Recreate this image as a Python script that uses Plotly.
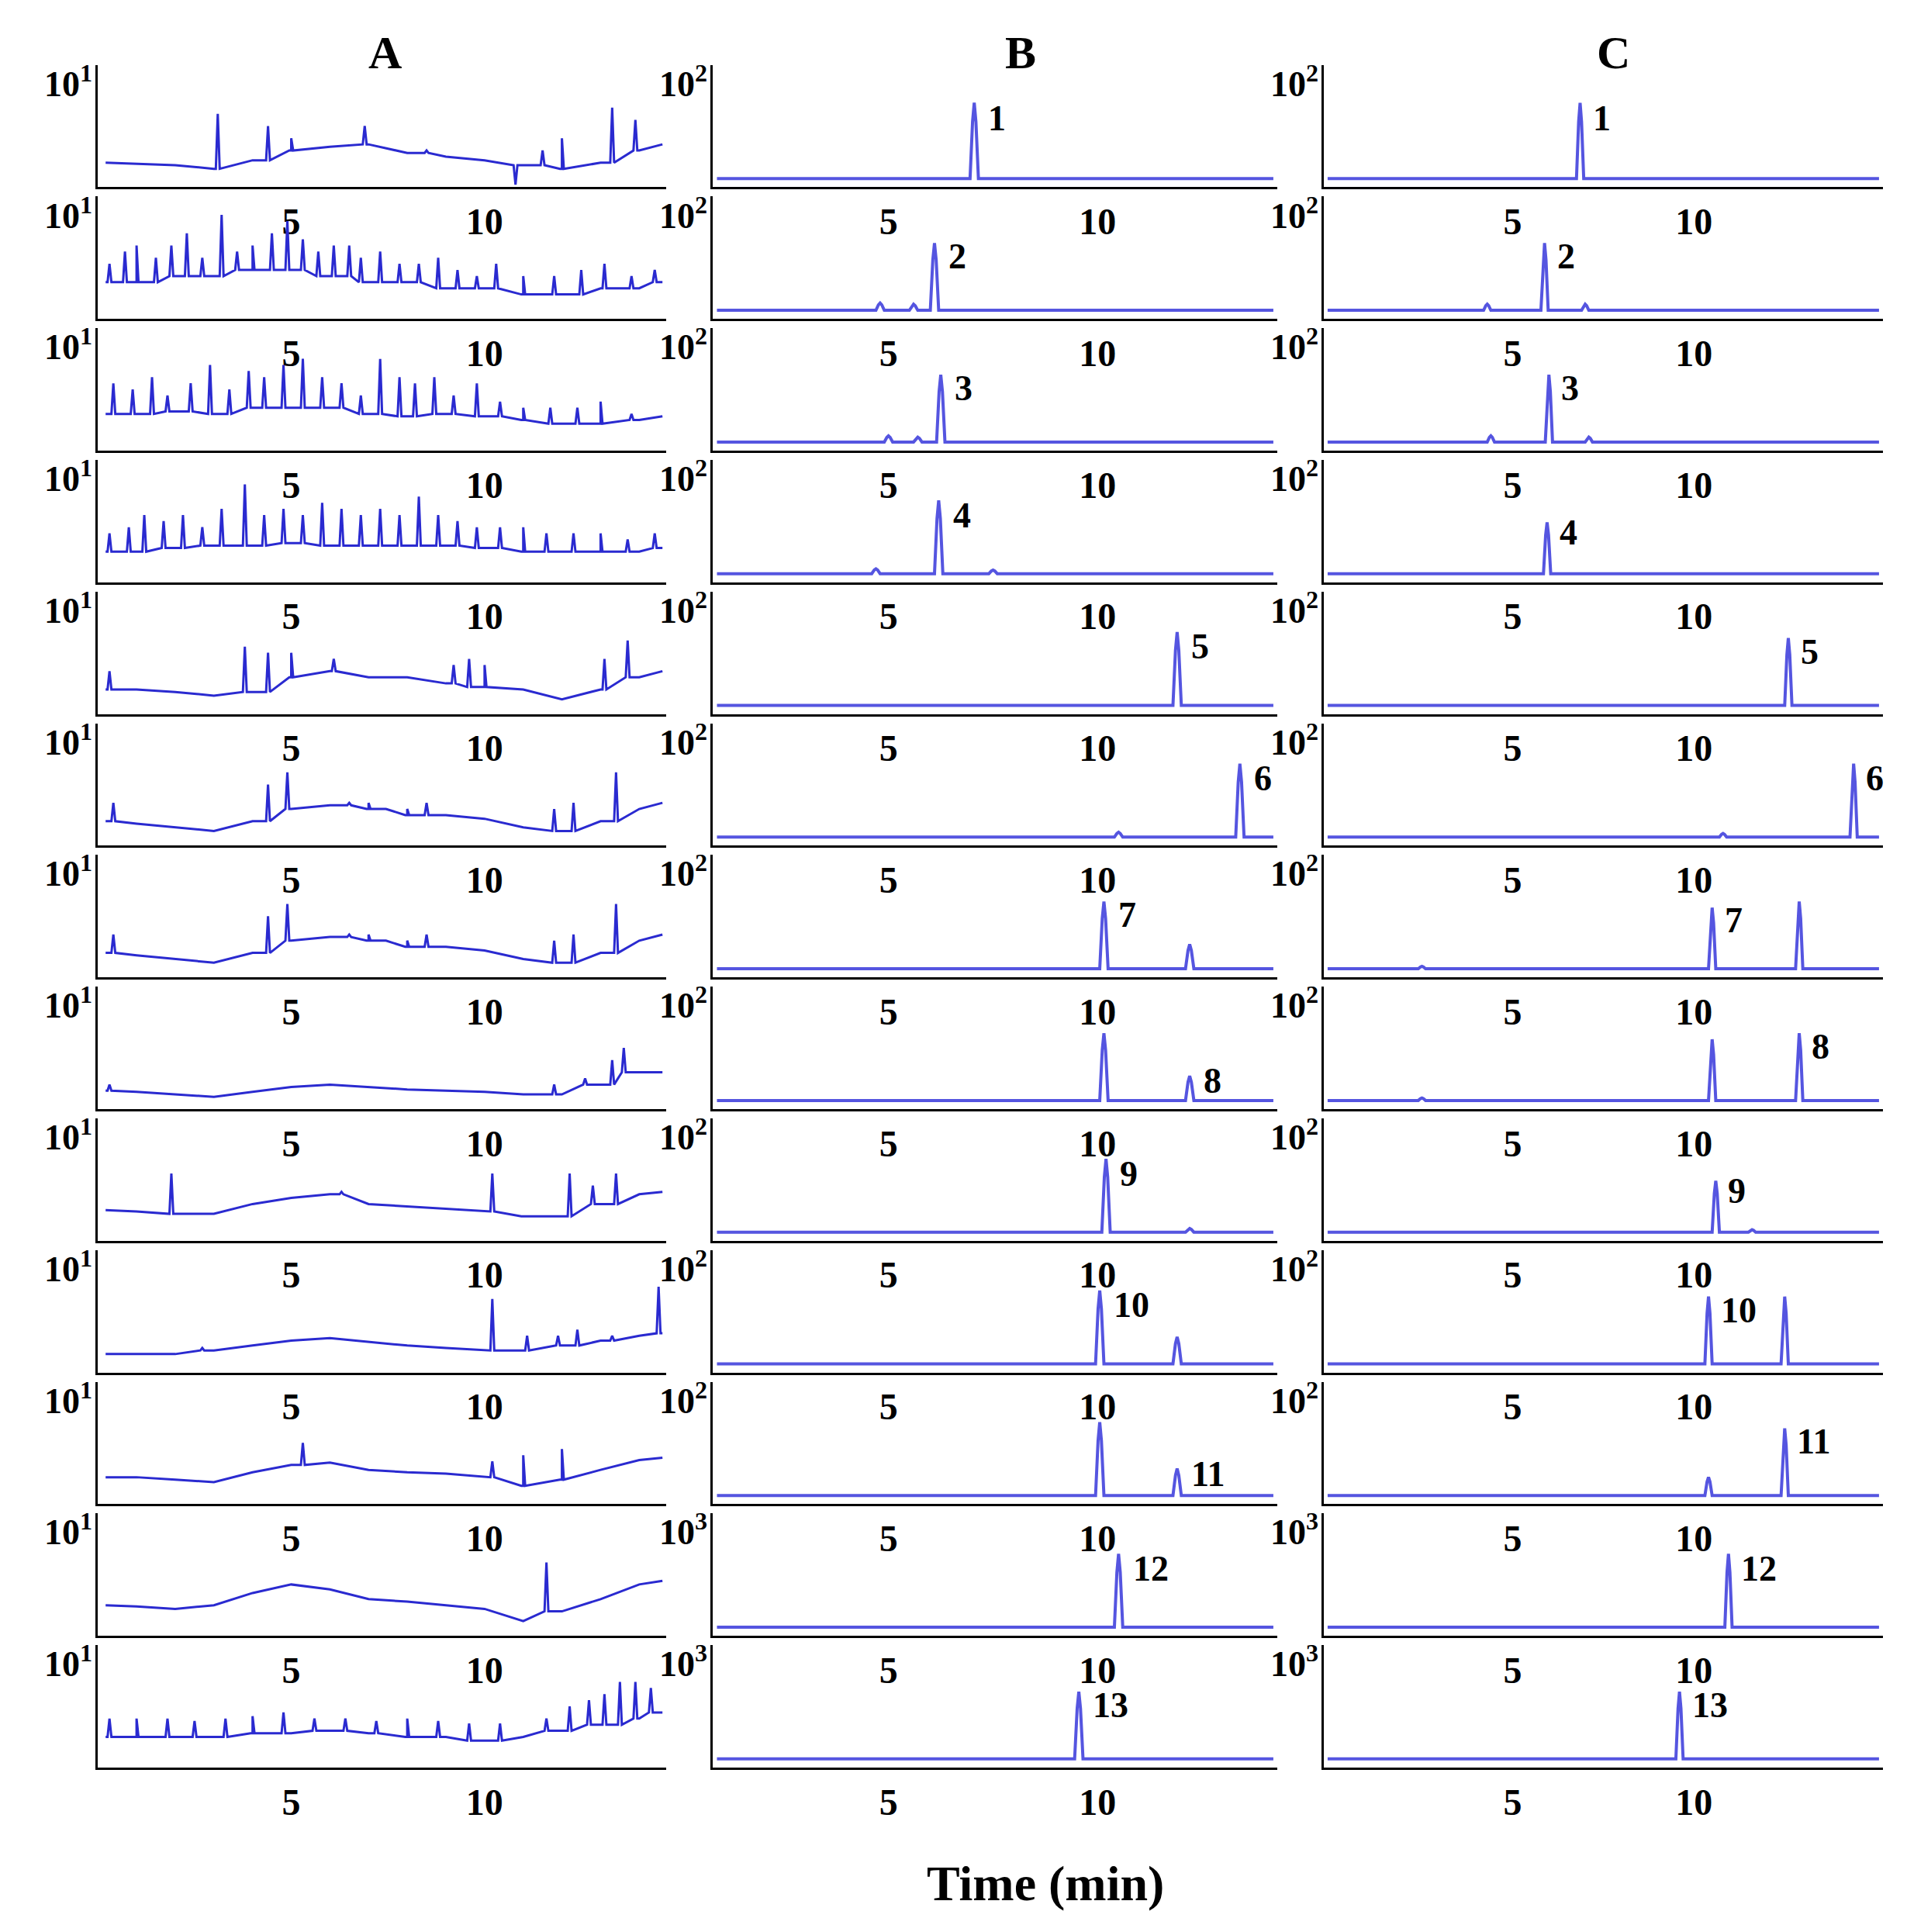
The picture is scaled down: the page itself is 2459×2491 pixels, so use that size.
import plotly.graph_objects as go

W, H = 2459, 2491
IW, IH = 1560, 1580  # reference pixel frame used for placement

# ---------------- DATA ----------------
A_base_x = [0.2, 1, 2, 3, 4, 5, 6, 7, 8, 9, 10, 11, 12, 13, 14, 14.6]
A_base = [
    [0.2,0.19,0.18,0.15,0.22,0.3,0.33,0.35,0.28,0.25,0.22,0.18,0.15,0.2,0.3,0.35],
    [0.3,0.3,0.35,0.35,0.4,0.4,0.35,0.3,0.3,0.25,0.25,0.2,0.2,0.25,0.25,0.3],
    [0.3,0.3,0.32,0.3,0.35,0.35,0.35,0.3,0.28,0.3,0.28,0.25,0.22,0.22,0.25,0.28],
    [0.25,0.25,0.28,0.3,0.3,0.32,0.3,0.3,0.3,0.3,0.28,0.25,0.25,0.25,0.25,0.28],
    [0.2,0.2,0.18,0.15,0.18,0.3,0.35,0.3,0.3,0.25,0.22,0.2,0.12,0.2,0.3,0.35],
    [0.2,0.18,0.15,0.12,0.2,0.3,0.33,0.3,0.25,0.25,0.22,0.15,0.12,0.2,0.3,0.35],
    [0.2,0.18,0.15,0.12,0.2,0.3,0.33,0.3,0.25,0.25,0.22,0.15,0.12,0.2,0.3,0.35],
    [0.15,0.14,0.12,0.1,0.14,0.18,0.2,0.18,0.16,0.15,0.14,0.12,0.12,0.2,0.3,0.3],
    [0.25,0.24,0.22,0.22,0.3,0.35,0.38,0.3,0.28,0.26,0.24,0.2,0.2,0.3,0.38,0.4],
    [0.15,0.15,0.15,0.18,0.22,0.26,0.28,0.25,0.22,0.2,0.18,0.18,0.22,0.26,0.3,0.32],
    [0.22,0.22,0.2,0.18,0.26,0.32,0.34,0.28,0.26,0.25,0.22,0.15,0.2,0.28,0.36,0.38],
    [0.25,0.24,0.22,0.25,0.35,0.42,0.38,0.3,0.28,0.25,0.22,0.12,0.2,0.3,0.42,0.45],
    [0.25,0.25,0.25,0.25,0.28,0.28,0.3,0.28,0.25,0.25,0.22,0.25,0.3,0.35,0.4,0.45],
]
A_spikes = [
    [(3.1,.6),(4.4,.5),(5,.4),(6.9,.5),(8.5,.3),(10.8,.02),(11.5,.3),(12,.4),(13.3,.65),(13.9,.55)],
    [(0.3,.45),(0.7,.55),(1,.6),(1.5,.5),(1.9,.6),(2.3,.7),(2.7,.5),(3.2,.85),(3.6,.55),(4,.6),(4.5,.7),(4.9,.8),(5.3,.65),(5.7,.55),(6.1,.6),(6.5,.6),(6.8,.5),(7.3,.55),(7.8,.45),(8.3,.45),(8.8,.5),(9.3,.4),(9.8,.35),(10.3,.45),(11,.35),(11.8,.35),(12.5,.4),(13.1,.45),(13.8,.35),(14.4,.4)],
    [(0.4,.55),(0.9,.5),(1.4,.6),(1.8,.45),(2.4,.55),(2.9,.7),(3.4,.5),(3.9,.65),(4.3,.6),(4.8,.7),(5.3,.75),(5.8,.6),(6.3,.55),(6.8,.45),(7.3,.75),(7.8,.6),(8.2,.55),(8.7,.6),(9.2,.45),(9.8,.55),(10.4,.4),(11,.35),(11.7,.35),(12.4,.35),(13,.4),(13.8,.3)],
    [(0.3,.4),(0.8,.45),(1.2,.55),(1.7,.5),(2.2,.55),(2.7,.45),(3.2,.6),(3.8,.8),(4.3,.55),(4.8,.6),(5.3,.55),(5.8,.65),(6.3,.6),(6.8,.55),(7.3,.6),(7.8,.55),(8.3,.7),(8.8,.55),(9.3,.5),(9.8,.45),(10.4,.45),(11,.45),(11.6,.4),(12.3,.4),(13,.4),(13.7,.35),(14.4,.4)],
    [(0.3,.35),(3.8,.55),(4.4,.5),(5,.5),(6.1,.45),(9.2,.4),(9.6,.45),(10,.4),(13.1,.45),(13.7,.6)],
    [(0.4,.35),(4.4,.5),(4.9,.6),(6.5,.35),(7,.35),(7.4,.3),(8,.3),(8.5,.35),(11.8,.3),(12.3,.35),(13.4,.6)],
    [(0.4,.35),(4.4,.5),(4.9,.6),(6.5,.35),(7,.35),(7.4,.3),(8,.3),(8.5,.35),(11.8,.3),(12.3,.35),(13.4,.6)],
    [(0.3,.2),(11.8,.2),(12.6,.25),(13.3,.4),(13.6,.5),(14.2,.3)],
    [(1.9,.55),(6.3,.4),(10.2,.55),(11,.2),(12.2,.55),(12.8,.45),(13.4,.55)],
    [(2.7,.2),(10.2,.6),(11.1,.3),(11.9,.3),(12.4,.35),(13.3,.3),(14.5,.7)],
    [(5.3,.5),(10.2,.35),(11,.4),(12,.45)],
    [(11.6,.6)],
    [(0.3,.4),(1,.4),(1.8,.4),(2.5,.38),(3.3,.4),(4,.42),(4.8,.45),(5.6,.4),(6.4,.4),(7.2,.38),(8,.4),(8.8,.38),(9.6,.36),(10.4,.36),(11.6,.4),(12.2,.5),(12.7,.55),(13.1,.6),(13.5,.7),(13.9,.7),(14.3,.65)],
]

B_peaks = [
    [(7.05,.62)], [(4.8,.06),(5.6,.05),(6.1,.55)], [(5.0,.05),(5.7,.04),(6.25,.55)],
    [(4.7,.04),(6.2,.6),(7.5,.03)], [(11.9,.6)], [(10.5,.04),(13.4,.6)],
    [(10.15,.55),(12.2,.2)], [(10.15,.55),(12.2,.2)], [(10.2,.6),(12.2,.03)],
    [(10.05,.6),(11.9,.22)], [(10.05,.6),(11.9,.22)], [(10.5,.6)], [(9.55,.55)],
]
B_labels = ["1","2","3","4","5","6","7","8","9","10","11","12","13"]
B_label_idx = [0,2,2,1,0,1,0,1,0,0,1,0,0]
B_top = ["10<sup>2</sup>"]*11 + ["10<sup>3</sup>"]*2

C_peaks = [
    [(6.86,.62)], [(4.3,.05),(5.88,.55),(7.0,.05)], [(4.4,.05),(6.0,.55),(7.1,.04)],
    [(5.95,.42)], [(12.6,.55)], [(10.8,.03),(14.4,.6)],
    [(2.5,.02),(10.5,.5),(12.9,.55)], [(2.5,.02),(10.5,.5),(12.9,.55)], [(10.6,.42),(11.6,.02)],
    [(10.4,.55),(12.5,.55)], [(10.4,.15),(12.5,.55)], [(10.95,.6)], [(9.6,.55)],
]
C_label_idx = [0,1,1,0,0,1,1,2,0,0,1,0,0]

XTICKS = [5, 10]
RANGES = {"A": [0, 14.7], "B": [0.8, 14.3], "C": [-0.2, 15.2]}
COLX = {"A": (75, 540), "B": (578, 1040), "C": (1078, 1535)}
BASE_B = 0.07

# ---------------- FIGURE ----------------
fig = go.Figure()
ann = []
serif = "Liberation Serif"
TF = dict(family=serif, size=48, color="black", weight="bold")

def peak_trace(peaks, xr, base):
    xs, ys = [xr[0]+0.1], [base]
    for t, h in peaks:
        xs += [t-0.1, t-0.04, t, t+0.04, t+0.1]
        ys += [base, base+h*0.75, base+h, base+h*0.75, base]
    xs.append(xr[1]-0.1); ys.append(base)
    return xs, ys

n = 0
for r in range(13):
    top = 48 + 107.7*r
    bot = 148 + 107.7*r
    dom_y = [1 - bot/IH, 1 - top/IH]
    for c in "ABC":
        n += 1
        xa = "x" if n == 1 else f"x{n}"
        ya = "y" if n == 1 else f"y{n}"
        xr = RANGES[c]
        if c == "A":
            pts = list(zip(A_base_x, A_base[r]))
            for t, h in A_spikes[r]:
                b = A_base[r][min(range(len(A_base_x)), key=lambda i: abs(A_base_x[i]-t))]
                pts += [(t-0.05, b), (t, h), (t+0.05, b)]
            pts.sort()
            xs = [p[0] for p in pts]; ys = [p[1] for p in pts]
            col = "#2a2ad0"; wd = 3
        else:
            peaks = B_peaks[r] if c == "B" else C_peaks[r]
            xs, ys = peak_trace(peaks, xr, BASE_B)
            col = "#5555e0"; wd = 4
            li = (B_label_idx if c == "B" else C_label_idx)[r]
            t, h = peaks[li]
            ann.append(dict(x=t+0.3, y=BASE_B+h*0.8, xref=xa, yref=ya, text="<b>"+B_labels[r]+"</b>",
                            showarrow=False, xanchor="left", yanchor="middle",
                            font=dict(family=serif, size=46, color="black")))
        fig.add_trace(go.Scatter(x=xs, y=ys, mode="lines", line=dict(color=col, width=wd),
                                 xaxis=xa, yaxis=ya, showlegend=False, hoverinfo="skip"))
        x0, x1 = COLX[c]
        ax = dict(domain=[x0/IW, x1/IW], range=xr, tickvals=XTICKS, ticks="", showgrid=False,
                  zeroline=False, showline=True, linecolor="black", linewidth=3,
                  tickfont=TF, anchor=ya)
        ay = dict(domain=dom_y, range=[0, 1], showticklabels=False, ticks="", showgrid=False,
                  zeroline=False, showline=True, linecolor="black", linewidth=3, anchor=xa)
        fig.layout["xaxis" if n == 1 else f"xaxis{n}"] = ax
        fig.layout["yaxis" if n == 1 else f"yaxis{n}"] = ay
        lab = "10<sup>1</sup>" if c == "A" else (B_top[r])
        ann.append(dict(x=x0/IW - 0.002, y=dom_y[1] + 0.004, xref="paper", yref="paper", text="<b>"+lab+"</b>",
                        showarrow=False, xanchor="right", yanchor="top",
                        font=dict(family=serif, size=46, color="black")))

for c, xp in zip("ABC", [310, 830, 1315]):
    ann.append(dict(x=xp/IW, y=1-38/IH, xref="paper", yref="paper", text="<b>"+c+"</b>",
                    showarrow=False, xanchor="center", yanchor="middle",
                    font=dict(family=serif, size=60, color="black")))
ann.append(dict(x=850/IW, y=1-1535/IH, xref="paper", yref="paper", text="<b>Time (min)</b>",
                showarrow=False, xanchor="center", yanchor="middle",
                font=dict(family=serif, size=64, color="black")))

fig.update_layout(width=W, height=H, margin=dict(l=0, r=0, t=0, b=0),
                  plot_bgcolor="white", paper_bgcolor="white", annotations=ann,
                  font=dict(family=serif))
fig.write_html("out.html")
